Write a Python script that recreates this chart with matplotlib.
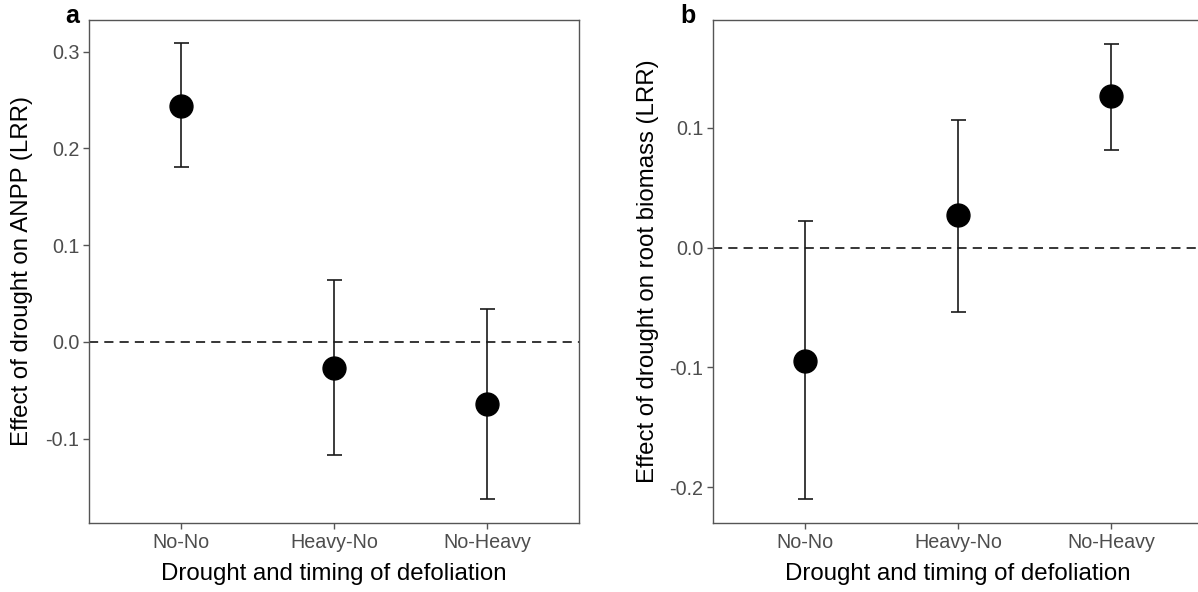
import matplotlib
matplotlib.use("Agg")
import matplotlib.pyplot as plt

plt.rcParams["font.family"] = ["Liberation Sans", "DejaVu Sans"]

treatments = ["No-No", "Heavy-No", "No-Heavy"]

# panel a: ANPP
anpp_mean = [0.244, -0.027, -0.064]
anpp_upper = [0.3085, 0.0644, 0.0341]
anpp_lower = [0.181, -0.1173, -0.1628]

# panel b: root biomass
root_mean = [-0.0943, 0.027, 0.1263]
root_upper = [0.022, 0.1063, 0.170]
root_lower = [-0.210, -0.0537, 0.0818]

W, H = 1198, 592
DPI = 100
fig = plt.figure(figsize=(W / DPI, H / DPI), dpi=DPI)

GREY = "#4D4D4D"
SPINE = "#555555"


def make_panel(left_px, mean, upper, lower, ylim, yticks, ylabel, tag, tag_x, ylab_x):
    ax = fig.add_axes([left_px / W, (H - 523) / H, 490 / W, 503 / H])
    x = list(range(1, len(treatments) + 1))
    yerr = [[m - lo for m, lo in zip(mean, lower)],
            [up - m for m, up in zip(mean, upper)]]
    ax.axhline(0, color="black", lw=1.1, ls=(0, (6, 4)), zorder=1)
    ax.errorbar(x, mean, yerr=yerr, fmt="none", ecolor="#1a1a1a",
                elinewidth=1.2, capsize=5.4, capthick=1.2, zorder=2)
    ax.plot(x, mean, "o", color="black", ms=16.5, zorder=3)
    ax.set_xlim(0.4, 3.6)
    ax.set_ylim(*ylim)
    ax.set_xticks(x)
    ax.set_xticklabels(treatments)
    ax.set_yticks(yticks)
    ax.set_yticklabels([f"{t:.1f}" for t in yticks])
    for s in ax.spines.values():
        s.set_color(SPINE)
        s.set_linewidth(1.0)
    ax.tick_params(length=4, width=1.0, color=SPINE, labelcolor=GREY,
                   labelsize=14.2, pad=3)
    ax.set_xlabel("Drought and timing of defoliation", fontsize=17.3,
                  color="black")
    ax.xaxis.set_label_coords(0.5, -0.08)
    ax.set_ylabel(ylabel, fontsize=17.3, color="black")
    ax.yaxis.set_label_coords((ylab_x - left_px) / 490, 0.5)
    ax.yaxis.label.set_va("center")
    fig.text(tag_x / W, 1 - 16 / H, tag, fontsize=18, fontweight="bold",
             ha="left", va="center")
    return ax


make_panel(89, anpp_mean, anpp_upper, anpp_lower, (-0.1872, 0.3327),
           [-0.1, 0.0, 0.1, 0.2, 0.3],
           "Effect of drought on ANPP (LRR)", "a", 65, 22)
make_panel(713, root_mean, root_upper, root_lower, (-0.2298, 0.190),
           [-0.2, -0.1, 0.0, 0.1],
           "Effect of drought on root biomass (LRR)", "b", 680, 648)

fig.savefig("out.png", dpi=DPI)
